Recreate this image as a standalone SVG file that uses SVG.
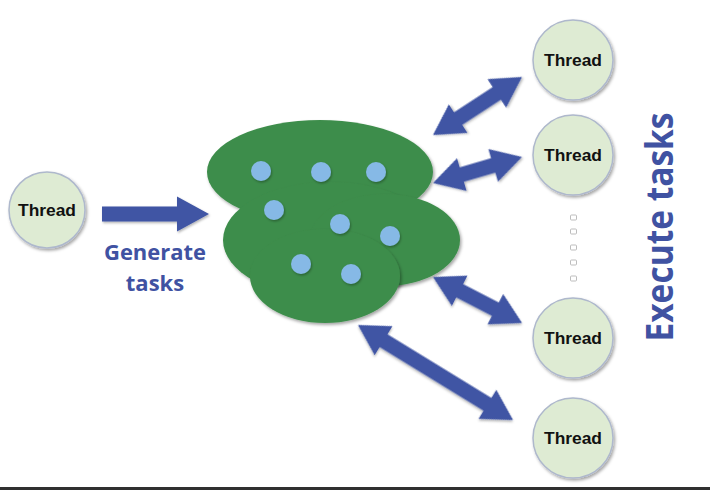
<svg xmlns="http://www.w3.org/2000/svg" width="710" height="490" viewBox="0 0 710 490">
  <defs>
    <filter id="shadow" x="-20%" y="-20%" width="150%" height="150%">
      <feDropShadow dx="1.5" dy="2" stdDeviation="1.5" flood-color="#000" flood-opacity="0.35"/>
    </filter>
    <filter id="soft" x="-20%" y="-20%" width="150%" height="150%">
      <feDropShadow dx="1" dy="1.5" stdDeviation="1" flood-color="#000" flood-opacity="0.3"/>
    </filter>
  </defs>
  <style>
    .thread { fill: #DEEBD3; stroke: #AEB8CC; stroke-width: 1.5; filter: url(#shadow); }
    .tlabel { font-family: "Liberation Sans", Arial, sans-serif; font-weight: bold; font-size: 16px; fill: #111; text-anchor: middle; }
    .arrow { fill: #3F55A4; filter: url(#soft); }
    .blob { fill: #3E8D4B; filter: url(#shadow); }
    .task { fill: #86B9E6; filter: url(#soft); }
    .caption { font-family: "Open Sans", "Liberation Sans", sans-serif; font-weight: bold; fill: #4052A2; }
    .gap { fill: #fff; stroke: #BDBDBD; stroke-width: 1; }
  </style>

  <rect width="710" height="490" fill="#fff"/>

  <!-- task pool -->
  <g id="pool">
    <ellipse class="blob" cx="320" cy="172" rx="113" ry="52"/>
    <ellipse class="blob" cx="330" cy="240" rx="107" ry="58"/>
    <ellipse class="blob" cx="385" cy="240" rx="75" ry="46"/>
    <ellipse class="blob" cx="325" cy="276" rx="75" ry="47"/>
    <circle class="task" cx="261" cy="171" r="10"/>
    <circle class="task" cx="321" cy="172" r="10"/>
    <circle class="task" cx="376" cy="172" r="10"/>
    <circle class="task" cx="274" cy="210" r="10"/>
    <circle class="task" cx="340" cy="224" r="10"/>
    <circle class="task" cx="390" cy="236" r="10"/>
    <circle class="task" cx="301" cy="264" r="10"/>
    <circle class="task" cx="351" cy="274" r="10"/>
  </g>

  <!-- connectors -->
  <g id="connectors">
    <path class="arrow" d="M102,206.5 H177 V196.5 L209,214 L177,231.5 V221.5 H102 Z"/>
    <!-- double arrows: local axis from pool side (0,0) to thread side (L,0) -->
    <path class="arrow" transform="translate(433,135) rotate(-33.1)" d="M0,0 L30,-17 L30,-7.5 L76.2,-7.5 L76.2,-17 L106.2,0 L76.2,17 L76.2,7.5 L30,7.5 L30,17 Z"/>
    <path class="arrow" transform="translate(433,183) rotate(-16.3)" d="M0,0 L30,-17 L30,-7.5 L62.7,-7.5 L62.7,-17 L92.7,0 L62.7,17 L62.7,7.5 L30,7.5 L30,17 Z"/>
    <path class="arrow" transform="translate(433,277) rotate(27.3)" d="M0,0 L30,-17 L30,-7.5 L70.2,-7.5 L70.2,-17 L100.2,0 L70.2,17 L70.2,7.5 L30,7.5 L30,17 Z"/>
    <path class="arrow" transform="translate(358,325) rotate(31.5)" d="M0,0 L30,-17 L30,-7.5 L151.8,-7.5 L151.8,-17 L181.8,0 L151.8,17 L151.8,7.5 L30,7.5 L30,17 Z"/>
  </g>

  <!-- threads -->
  <g id="producer">
    <circle class="thread" cx="47" cy="210" r="38"/>
    <text class="tlabel" x="47" y="216" textLength="58" lengthAdjust="spacingAndGlyphs">Thread</text>
  </g>
  <g id="worker1">
    <circle class="thread" cx="573" cy="60" r="40"/>
    <text class="tlabel" x="573" y="66" textLength="58" lengthAdjust="spacingAndGlyphs">Thread</text>
  </g>
  <g id="worker2">
    <circle class="thread" cx="573" cy="155" r="40"/>
    <text class="tlabel" x="573" y="161" textLength="58" lengthAdjust="spacingAndGlyphs">Thread</text>
  </g>
  <g id="worker3">
    <circle class="thread" cx="573" cy="338" r="40"/>
    <text class="tlabel" x="573" y="344" textLength="58" lengthAdjust="spacingAndGlyphs">Thread</text>
  </g>
  <g id="worker4">
    <circle class="thread" cx="573" cy="438" r="40"/>
    <text class="tlabel" x="573" y="444" textLength="58" lengthAdjust="spacingAndGlyphs">Thread</text>
  </g>

  <!-- vertical ellipsis between workers -->
  <g id="ellipsis">
    <rect class="gap" x="570.5" y="215" width="6" height="5" rx="1"/>
    <rect class="gap" x="570.5" y="229" width="6" height="5" rx="1"/>
    <rect class="gap" x="570.5" y="245" width="6" height="5" rx="1"/>
    <rect class="gap" x="570.5" y="260" width="6" height="5" rx="1"/>
    <rect class="gap" x="570.5" y="276" width="6" height="5" rx="1"/>
  </g>

  <!-- captions -->
  <g id="captions">
    <text class="caption" font-size="22" x="155" y="260" text-anchor="middle" textLength="102" lengthAdjust="spacingAndGlyphs">Generate</text>
    <text class="caption" font-size="22" x="155" y="291" text-anchor="middle">tasks</text>
    <text class="caption" font-size="38" transform="translate(673,227) rotate(-90)" text-anchor="middle" textLength="229" lengthAdjust="spacingAndGlyphs">Execute tasks</text>
  </g>

  <rect x="0" y="487" width="710" height="3" fill="#303030"/>
</svg>
